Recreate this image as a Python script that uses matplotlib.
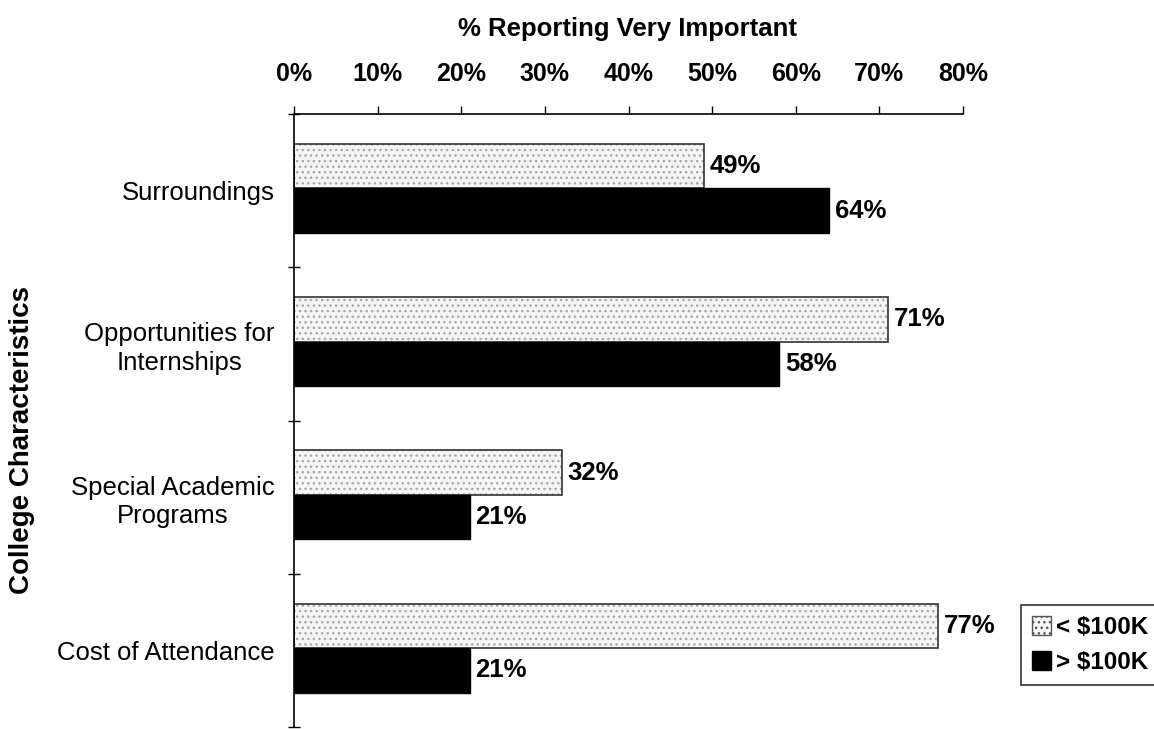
import numpy as np
import matplotlib
matplotlib.use("Agg")
import matplotlib.pyplot as plt
from matplotlib.patches import Patch

plt.rcParams['font.family'] = ['Liberation Sans', 'DejaVu Sans']

categories = ["Surroundings", "Opportunities for\nInternships",
              "Special Academic\nPrograms", "Cost of Attendance"]
under_100k = [49, 71, 32, 77]
over_100k = [64, 58, 21, 21]
series_names = ["< $100K", "> $100K"]
xticks = [0, 10, 20, 30, 40, 50, 60, 70, 80]

fig = plt.figure(figsize=(11.54, 7.29), dpi=100)
ax = fig.add_axes([0.2548, 0.0027, 0.5797, 0.8409])

y = np.arange(len(categories))
h = 0.29

# light bars: dotted fill, then dark outline on top
ax.barh(y - 0.16, under_100k, height=h, color="#f5f5f5", hatch="...",
        edgecolor="#a8a8a8", linewidth=0)
ax.barh(y - 0.16, under_100k, height=h, fill=False, edgecolor="#333333",
        linewidth=1.2)
ax.barh(y + 0.13, over_100k, height=h, color="black", edgecolor="black")

for i in range(len(categories)):
    ax.text(under_100k[i] + 0.7, y[i] - 0.16, "%d%%" % under_100k[i],
            va="center", ha="left", fontsize=18.5, fontweight="bold")
    ax.text(over_100k[i] + 0.7, y[i] + 0.13, "%d%%" % over_100k[i],
            va="center", ha="left", fontsize=18.5, fontweight="bold")

ax.set_xlim(0, 80)
ax.set_ylim(3.5, -0.5)

ax.xaxis.tick_top()
ax.set_xticks(xticks)
ax.set_xticklabels(["%d%%" % t for t in xticks], fontsize=18, fontweight="bold")
ax.tick_params(axis="x", direction="out", length=6, width=1, pad=14)

ax.set_yticks(y)
ax.set_yticklabels(categories, fontsize=18.5, multialignment="center",
                   linespacing=1.25)
ax.tick_params(axis="y", which="major", length=0, pad=14)
ax.set_yticks(np.arange(-0.5, 3.6, 1.0), minor=True)
ax.tick_params(axis="y", which="minor", direction="inout", length=9, width=1)

for s in ("right", "bottom"):
    ax.spines[s].set_visible(False)
for s in ("left", "top"):
    ax.spines[s].set_linewidth(1.2)

fig.text(627 / 1154, 1 - 29 / 729, "% Reporting Very Important", ha="center",
         va="center", fontsize=18.5, fontweight="bold")
fig.text(22 / 1154, 1 - 440 / 729, "College Characteristics", rotation=90,
         ha="center", va="center", fontsize=20, fontweight="bold")

handles = [Patch(facecolor="#f5f5f5", hatch="...", edgecolor="#555555"),
           Patch(facecolor="black", edgecolor="black")]
leg = fig.legend(handles, series_names, loc="center left",
                 bbox_to_anchor=(1021 / 1154, 1 - 645 / 729),
                 prop={"size": 17.5, "weight": "bold"}, frameon=True,
                 fancybox=False, handlelength=0.8, handleheight=0.8,
                 handletextpad=0.2, borderpad=0.45, labelspacing=0.5,
                 borderaxespad=0)
leg.get_frame().set_edgecolor("black")
leg.get_frame().set_linewidth(1.2)

fig.savefig("out.png", dpi=100)
